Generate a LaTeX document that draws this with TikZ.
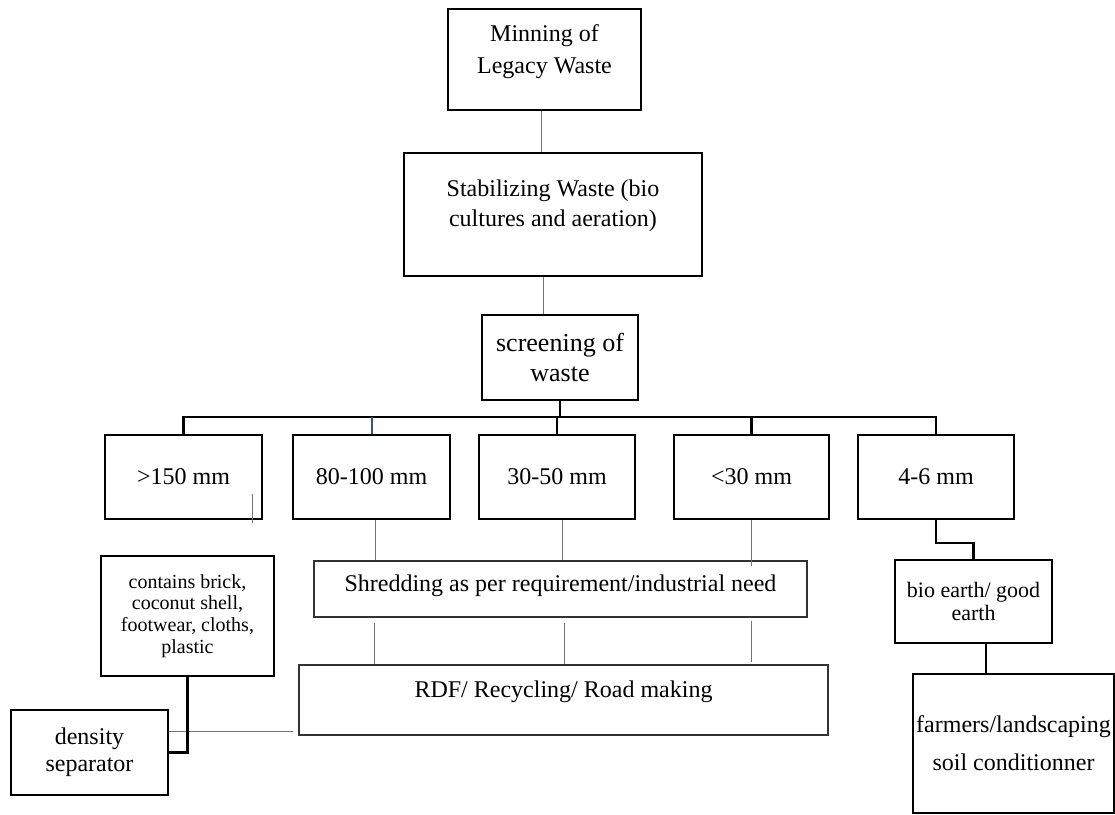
\documentclass[tikz,border=0pt]{standalone}
\usepackage{fontspec}
\setmainfont{Liberation Serif}
\usetikzlibrary{calc}
\definecolor{linkgray}{gray}{0.45}
\definecolor{dropblue}{RGB}{47,85,151}
\newcommand{\dropstrut}[1]{\rule[-#1pt]{0pt}{#1pt}}

\begin{document}
\begin{tikzpicture}[x=1pt,y=-1pt,
  box/.style={draw,line width=2.4pt,inner sep=0pt,align=center,font=\fontsize{24}{30}\selectfont},
  thinbox/.style={box,line width=1.3pt,draw=black!80},
  link/.style={draw=linkgray,line width=1pt},
  bus/.style={line width=2.4pt}]

\useasboundingbox (0,0) rectangle (1115,814) ;

%top chain
\node [box,minimum width=193pt,minimum height=101pt,font=\fontsize{24}{32}\selectfont] (mining) at (544.5,59.5) {Minning of\\Legacy Waste\dropstrut{20}} ;
\node [box,minimum width=298pt,minimum height=123pt] (stabilize) at (553,214.5) {Stabilizing Waste (bio\\cultures and aeration)\dropstrut{23}} ;
\node [box,minimum width=156pt,minimum height=85pt,font=\fontsize{26}{30}\selectfont] (screen) at (560,357.5) {screening of\\waste} ;

%size fractions
\node [box,minimum width=157pt,minimum height=84pt] (over150) at (183.5,477) {>150 mm} ;
\node [box,minimum width=157pt,minimum height=84pt] (mm80) at (371.5,477) {80-100 mm} ;
\node [box,minimum width=156pt,minimum height=84pt] (mm30) at (557,477) {30-50 mm} ;
\node [box,minimum width=155pt,minimum height=84pt] (under30) at (751.5,477) {<30 mm} ;
\node [box,minimum width=156pt,minimum height=84pt] (mm4) at (936,477) {4-6 mm} ;

%lower boxes
\node [box,minimum width=173pt,minimum height=120pt,font=\fontsize{20}{21.7}\selectfont] (contains) at (187.5,616) {contains brick,\\coconut shell,\\footwear, cloths,\\plastic} ;
\node [box,minimum width=157pt,minimum height=85pt,font=\fontsize{24}{27}\selectfont] (density) at (89.5,752.5) {density\\separator} ;
\node [thinbox,minimum width=493pt,minimum height=56pt] (shred) at (560.5,589) {Shredding as per requirement/industrial need\dropstrut{11}} ;
\node [thinbox,minimum width=529pt,minimum height=70pt] (rdf) at (563.5,700) {RDF/ Recycling/ Road making\dropstrut{21}} ;
\node [box,minimum width=157pt,minimum height=83pt,font=\fontsize{22}{23}\selectfont] (bioearth) at (973.5,601.5) {bio earth/ good\\earth} ;
\node [box,minimum width=201pt,minimum height=139pt,font=\fontsize{24}{38}\selectfont] (farmers) at (1013.5,743.5) {farmers/landscaping\\soil conditionner} ;

%links down the middle
\draw [link] ($(mining.south)+(-3.5,0)$) -- ($(stabilize.north)+(-12,0)$) ;
\draw [link] ($(stabilize.south)+(-10,0)$) -- ($(screen.north)+(-17,0)$) ;

%screen bus
\coordinate (bus) at (559,417) ;
\draw [bus] (screen.south) -- (screen.south |- bus) ;
\draw [bus] (over150.north) |- (bus) -| (mm4.north) ;
\draw [bus] (mm30.north) -- (mm30.north |- bus) ;
\draw [bus] (under30.north) -- (under30.north |- bus) ;
\draw [bus,draw=dropblue,line width=2pt] (mm80.north) -- (mm80.north |- bus) ;

%stub in first box
\draw [link] ($(over150.south)+(68.5,-26)$) -- ($(over150.south)+(68.5,3)$) ;

%to shredding
\draw [link] ($(mm80.south)+(3.5,0)$) -- ($(mm80.south |- shred.north)+(3.5,0)$) ;
\draw [link] ($(mm30.south)+(5,0)$) -- ($(mm30.south |- shred.north)+(5,0)$) ;
\draw [link] (under30.south) -- ($(under30.south |- shred.north)+(0,6)$) ;

%to rdf
\draw [link] ($(shred.south)+(-186.5,5)$) -- ($(shred.south |- rdf.north)+(-186.5,0)$) ;
\draw [link] ($(shred.south)+(3.5,5)$) -- ($(shred.south |- rdf.north)+(3.5,0)$) ;
\draw [link] ($(shred.south)+(190.5,3)$) -- ($(shred.south |- rdf.north)+(190.5,-2)$) ;

%rdf and contains to density
\draw [link] ($(rdf.west)+(-5,31)$) -- ($(rdf.west -| density.east)+(0,31)$) ;
\draw [bus] (contains.south) |- (density.east) ;

%fine fraction
\draw [bus] (mm4.south) -- ++(0,23) -| (bioearth.north) ;
\draw [bus,line width=1.6pt] ($(bioearth.south)+(12.5,0)$) -- ($(farmers.north)+(-27.5,0)$) ;

\end{tikzpicture}
\end{document}
